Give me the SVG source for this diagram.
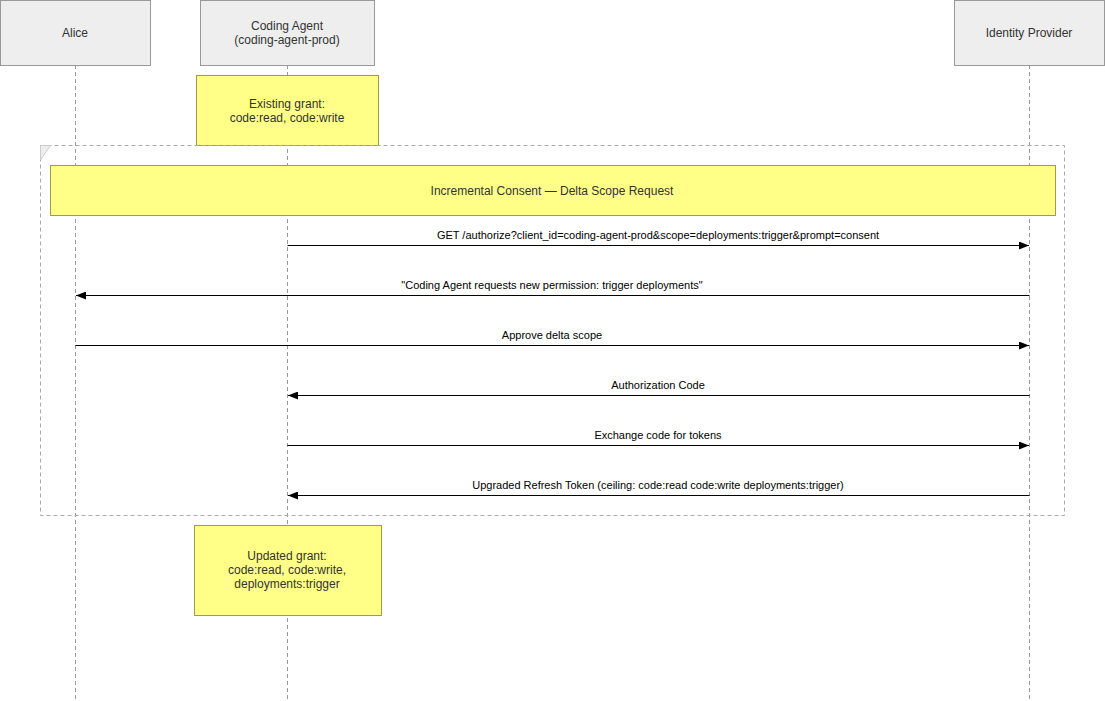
<svg xmlns="http://www.w3.org/2000/svg" width="1105" height="701" viewBox="0 0 1105 701">
<style>
text{font-family:"Liberation Sans",Arial,sans-serif;fill:#333;text-anchor:middle}
.actor{fill:#eee;stroke:#999;stroke-width:1}
.life{stroke:#999;stroke-dasharray:4,3;stroke-width:1}
.note{fill:#ffff88;stroke:#aa9944;stroke-width:1}
.t{font-size:12px}
.m{font-size:11px;fill:#000}
.msg{stroke:#000;stroke-width:1;fill:none}
</style>
<defs><marker id="ah" markerWidth="10" markerHeight="8" refX="10" refY="4" orient="auto" markerUnits="userSpaceOnUse"><path d="M0,0L10,4L0,8z" fill="#000"/></marker></defs>
<g id="lifelines">
<line class="life" x1="75.5" y1="65" x2="75.5" y2="700"/>
<line class="life" x1="287.5" y1="65" x2="287.5" y2="700"/>
<line class="life" x1="1029.5" y1="65" x2="1029.5" y2="700"/>
</g>
<g id="alice"><rect class="actor" x="0.5" y="0.5" width="150" height="65"/><text class="t" x="75" y="37">Alice</text></g>
<g id="agent"><rect class="actor" x="200.5" y="0.5" width="174" height="65"/><text class="t" x="287" y="30">Coding Agent</text><text class="t" x="287" y="44">(coding-agent-prod)</text></g>
<g id="idp"><rect class="actor" x="954.5" y="0.5" width="150" height="65"/><text class="t" x="1029" y="37">Identity Provider</text></g>
<g id="note-existing"><rect class="note" x="196.5" y="75.5" width="182" height="70"/><text class="t" x="287" y="108">Existing grant:</text><text class="t" x="287" y="122">code:read, code:write</text></g>
<g id="frame"><rect x="40.5" y="145.5" width="1024" height="370" fill="none" stroke="#aaa" stroke-dasharray="4,3"/><path d="M40.5,145.5H50.5L40.5,160z" fill="#eee" stroke="#ccc"/></g>
<g id="title"><rect class="note" x="50.5" y="165.5" width="1005" height="50"/><text class="t" x="552" y="195">Incremental Consent — Delta Scope Request</text></g>
<g id="connectors">
<line class="msg" x1="287.5" y1="245.5" x2="1029" y2="245.5" marker-end="url(#ah)"/>
<text class="m" x="658" y="239">GET /authorize?client_id=coding-agent-prod&amp;scope=deployments:trigger&amp;prompt=consent</text>
<line class="msg" x1="1029.5" y1="295.5" x2="76" y2="295.5" marker-end="url(#ah)"/>
<text class="m" x="552" y="289">"Coding Agent requests new permission: trigger deployments"</text>
<line class="msg" x1="75.5" y1="345.5" x2="1029" y2="345.5" marker-end="url(#ah)"/>
<text class="m" x="552" y="339">Approve delta scope</text>
<line class="msg" x1="1029.5" y1="395.5" x2="288" y2="395.5" marker-end="url(#ah)"/>
<text class="m" x="658" y="389">Authorization Code</text>
<line class="msg" x1="287.5" y1="445.5" x2="1029" y2="445.5" marker-end="url(#ah)"/>
<text class="m" x="658" y="439">Exchange code for tokens</text>
<line class="msg" x1="1029.5" y1="495.5" x2="288" y2="495.5" marker-end="url(#ah)"/>
<text class="m" x="658" y="489">Upgraded Refresh Token (ceiling: code:read code:write deployments:trigger)</text>
</g>
<g id="note-updated"><rect class="note" x="194.5" y="525.5" width="187" height="90"/><text class="t" x="287" y="560">Updated grant:</text><text class="t" x="287" y="574">code:read, code:write,</text><text class="t" x="287" y="588">deployments:trigger</text></g>
</svg>
